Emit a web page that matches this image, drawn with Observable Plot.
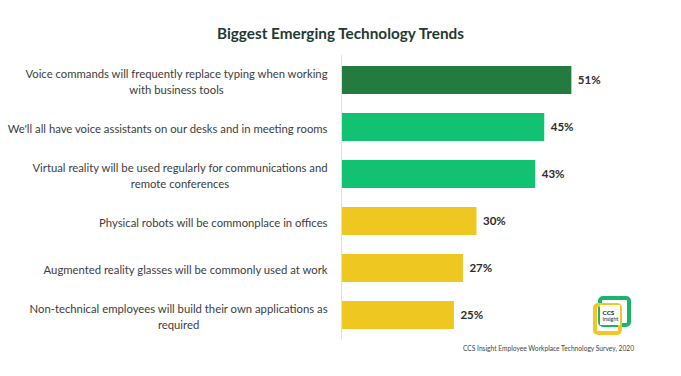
<!DOCTYPE html>
<html>
<head>
<meta charset="utf-8">
<script src="https://cdn.jsdelivr.net/npm/d3@7"></script>
<script src="https://cdn.jsdelivr.net/npm/@observablehq/plot@0.6"></script>
<style>
  html, body { margin: 0; padding: 0; background: #fff; }
  #wrap { position: relative; width: 681px; height: 376px; background: #fff; overflow: hidden; font-family: Lato, "Open Sans", sans-serif; }
  #title { height: 48px; box-sizing: border-box; padding-top: 23px; line-height: 20px; text-align: center; font-weight: bold; font-size: 15.3px; color: #1f3a33; }
  #caption { position: absolute; top: 344px; left: 463px; font-size: 6.65px; color: #444; white-space: nowrap; }
  #logo { position: absolute; left: 588px; top: 292px; }
  svg { display: block; }
</style>
</head>
<body>
<div id="wrap">
  <div id="title">Biggest Emerging Technology Trends</div>
  <div id="chart"></div>
  <div id="caption">CCS Insight Employee Workplace Technology Survey, 2020</div>
  <svg id="logo" width="48" height="48" viewBox="0 0 48 48">
    <rect x="12" y="6" width="29" height="27" rx="3" fill="none" stroke="#1bb56a" stroke-width="4"/>
    <rect x="7" y="13" width="25" height="28" rx="3" fill="none" stroke="#efc824" stroke-width="4"/>
    <rect x="12" y="13" width="20" height="20" fill="#fff"/>
    <text x="14.5" y="23" font-family="Lato" font-weight="bold" font-size="6.4" fill="#2a2a2a">CCS</text>
    <text x="14.5" y="29" font-family="Lato" font-size="5.4" fill="#2a2a2a">Insight</text>
  </svg>
</div>
<script>
const categories = [
  "Voice commands will frequently replace typing when working\nwith business tools",
  "We'll all have voice assistants on our desks and in meeting rooms",
  "Virtual reality will be used regularly for communications and\nremote conferences",
  "Physical robots will be commonplace in offices",
  "Augmented reality glasses will be commonly used at work",
  "Non-technical employees will build their own applications as\nrequired"
];
const values = [51, 45, 43, 30, 27, 25];
const tiers = ["top", "high", "high", "mid", "mid", "mid"];

const tierColors = ["#237b3f", "#12c171", "#eec821"];

const data = categories.map((c, i) => ({category: c, value: values[i], tier: tiers[i]}));

const chart = Plot.plot({
  width: 681,
  height: 328,
  marginLeft: 341,
  marginRight: 69,
  marginTop: 7.2,
  marginBottom: 36.2,
  x: {domain: [0, 60], axis: null},
  y: {domain: categories, paddingInner: 0.41, paddingOuter: 0.205, label: null},
  color: {domain: ["top", "high", "mid"], range: tierColors},
  style: {fontFamily: "Lato, 'Open Sans', sans-serif", fontSize: "11.3px", color: "#3d3d3d", background: "#fff"},
  marks: [
    Plot.barX(data, {y: "category", x: "value", fill: "tier"}),
    Plot.ruleX([0], {stroke: "#e0e0e0"}),
    Plot.axisY({tickSize: 0, tickPadding: 14, lineHeight: 1.42, fontSize: 11.3, fill: "#3d3d3d", label: null}),
    Plot.text(data, {y: "category", x: "value", text: d => d.value + "%", textAnchor: "start", dx: 6, fontWeight: "bold", fontSize: 11.5, fill: "#2b2b2b"})
  ]
});
document.getElementById("chart").appendChild(chart);

// center multi-line labels within their block (block stays right-aligned)
chart.querySelectorAll('g[aria-label="y-axis tick label"] text').forEach(t => {
  const spans = t.querySelectorAll("tspan");
  if (spans.length > 1) {
    const bb = t.getBBox();
    const cx = bb.x + bb.width / 2;
    t.setAttribute("text-anchor", "middle");
    spans.forEach(s => s.setAttribute("x", cx));
  }
});
</script>
</body>
</html>
